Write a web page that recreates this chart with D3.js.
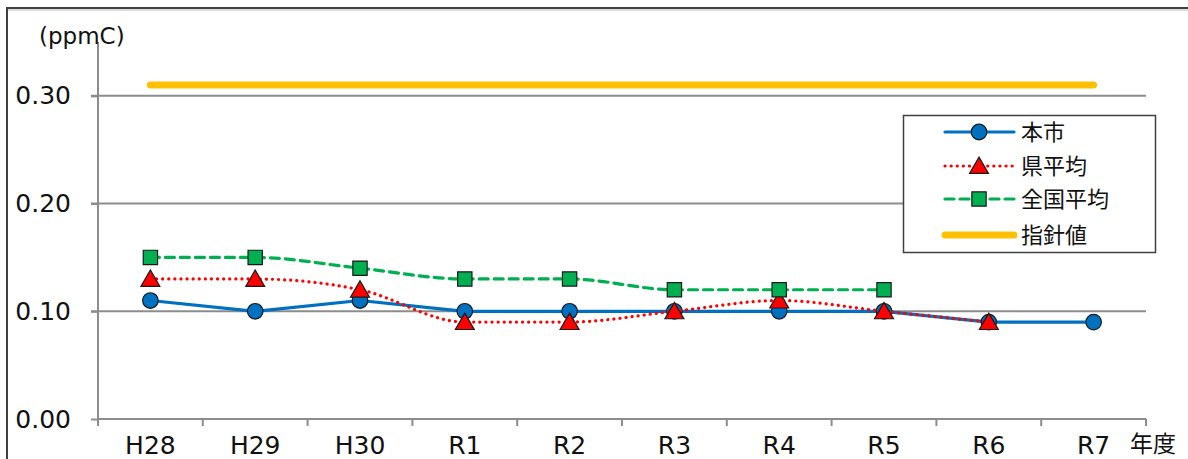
<!DOCTYPE html>
<html><head><meta charset="utf-8">
<script src="https://cdn.jsdelivr.net/npm/d3@7"></script>
<style>
html,body{margin:0;padding:0;background:#fff;}
svg{display:block;}
</style></head>
<body>
<svg id="chart" width="1188" height="459"></svg>
<script>
const categories = ["H28","H29","H30","R1","R2","R3","R4","R5","R6","R7"];
const cityValues = [0.11,0.10,0.11,0.10,0.10,0.10,0.10,0.10,0.09,0.09];
const prefValues = [0.13,0.13,0.12,0.09,0.09,0.10,0.11,0.10,0.09,null];
const nationValues = [0.15,0.15,0.14,0.13,0.13,0.12,0.12,0.12,null,null];
const guideValues = [0.31,0.31,0.31,0.31,0.31,0.31,0.31,0.31,0.31,0.31];
const yTicks = [0.00,0.10,0.20,0.30];
const seriesNames = ["本市","県平均","全国平均","指針値"];

(function(){
const svg = d3.select("#chart");
const pL = 98, pR = 1146, pT = 42, pB = 419;
const numFont = "'DejaVu Sans', sans-serif";
const jpFont = "'Noto Sans CJK JP', sans-serif";

// outer frame
svg.append("rect").attr("x",7).attr("y",8).attr("width",1200).attr("height",480)
  .attr("fill","none").attr("stroke","#404040").attr("stroke-width",2);
svg.append("line").attr("x1",8).attr("x2",1188).attr("y1",10).attr("y2",10)
  .attr("stroke","#bbb").attr("stroke-width",1);

const x = d3.scaleBand().domain(categories).range([pL,pR]).padding(0);
const y = d3.scaleLinear().domain([0,0.35]).range([pB,pT]);
const cx = c => x(c) + x.bandwidth()/2;

// gridlines
svg.append("g").selectAll("line").data(yTicks.filter(d=>d>0)).join("line")
  .attr("x1",pL-7).attr("x2",pR).attr("y1",d=>y(d)).attr("y2",d=>y(d))
  .attr("stroke","#8c8c8c").attr("stroke-width",2);

// y axis
const yAxis = d3.axisLeft(y).tickValues(yTicks).tickFormat(d3.format(".2f")).tickSize(7).tickPadding(20);
const gy = svg.append("g").attr("transform",`translate(${pL},0)`).call(yAxis);
gy.select(".domain").attr("stroke","#8c8c8c").attr("stroke-width",2).attr("d",`M0,${pT}V${pB}`);
gy.selectAll(".tick line").attr("stroke","#8c8c8c").attr("stroke-width",2);
gy.selectAll(".tick text").attr("font-family",numFont).attr("font-size",25).attr("fill","#111").attr("dx",0);

// x axis
const gx = svg.append("g").attr("transform",`translate(0,${pB})`)
  .call(d3.axisBottom(x).tickSize(0).tickPadding(19));
gx.select(".domain").attr("stroke","#8c8c8c").attr("stroke-width",2).attr("d",`M${pL},0H${pR}`);
gx.selectAll(".tick text").attr("font-family",numFont).attr("font-size",25).attr("fill","#111").attr("dy","0.62em");
// category boundary ticks
const bounds = categories.map(c=>x(c)).concat([pR]);
svg.append("g").selectAll("line").data(bounds).join("line")
  .attr("x1",d=>d).attr("x2",d=>d).attr("y1",pB).attr("y2",pB+7)
  .attr("stroke","#8c8c8c").attr("stroke-width",2);

// axis titles
svg.append("text").attr("x",39).attr("y",44).text("(ppmC)")
  .attr("font-family",numFont).attr("font-size",23).attr("fill","#111");
svg.append("text").attr("x",1130).attr("y",452).text("年度")
  .attr("font-family",jpFont).attr("font-size",23).attr("fill","#111");

function pts(vals){ return categories.map((c,i)=>({c, v: vals[i]})).filter(d=>d.v!=null); }

const series = [
  {vals: cityValues, color:"#0070C0", dash:null, width:3.2, marker:"circle", curve:d3.curveLinear},
  {vals: prefValues, color:"#FF0000", dash:"0.1,6", width:3.2, marker:"triangle", curve:d3.curveMonotoneX},
  {vals: nationValues, color:"#00B050", dash:"9,6", width:3.2, marker:"square", curve:d3.curveMonotoneX},
  {vals: guideValues, color:"#FFC000", dash:null, width:7, marker:null, curve:d3.curveLinear}
];

const symbolPath = {
  circle: d3.symbol().type(d3.symbolCircle).size(190)(),
  triangle: d3.symbol().type(d3.symbolTriangle).size(155)(),
  square: d3.symbol().type(d3.symbolSquare).size(205)()
};

series.forEach(s=>{
  const data = pts(s.vals);
  const line = d3.line().x(d=>cx(d.c)).y(d=>y(d.v)).curve(s.curve);
  svg.append("path").attr("d",line(data)).attr("fill","none")
    .attr("stroke",s.color).attr("stroke-width",s.width)
    .attr("stroke-linecap","round").attr("stroke-linejoin","round")
    .attr("stroke-dasharray",s.dash);
  if(s.marker){
    svg.append("g").selectAll("path").data(data).join("path")
      .attr("d",symbolPath[s.marker])
      .attr("transform",d=>`translate(${cx(d.c)},${y(d.v) + (s.marker==="triangle"?2:0)})`)
      .attr("fill",s.color).attr("stroke","#1a1a1a").attr("stroke-width",1.2);
  }
});

// legend
const lg = svg.append("g");
lg.append("rect").attr("x",903.5).attr("y",115.5).attr("width",252).attr("height",137)
  .attr("fill","#fff").attr("stroke","#404040").attr("stroke-width",1.5);
const ly = [132,166,199,235];
series.forEach((s,i)=>{
  lg.append("line").attr("x1",945).attr("x2",1014).attr("y1",ly[i]).attr("y2",ly[i])
    .attr("stroke",s.color).attr("stroke-width",s.marker?3.2:7)
    .attr("stroke-linecap","round").attr("stroke-dasharray",s.dash);
  if(s.marker){
    lg.append("path").attr("d",symbolPath[s.marker])
      .attr("transform",`translate(979,${ly[i]+(s.marker==="triangle"?2:0)})`)
      .attr("fill",s.color).attr("stroke","#1a1a1a").attr("stroke-width",1.2);
  }
  lg.append("text").attr("x",1021).attr("y",ly[i]).attr("dy","0.36em").text(seriesNames[i])
    .attr("font-family",jpFont).attr("font-size",22).attr("fill","#111");
});
})();
</script>
</body></html>
